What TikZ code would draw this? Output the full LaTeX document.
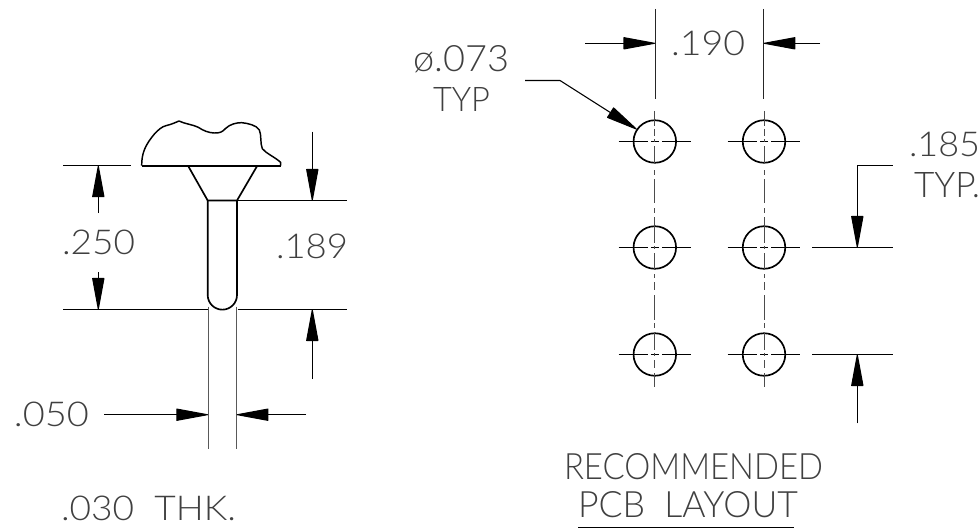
\documentclass[tikz,border=0pt]{standalone}
\usepackage{fontspec}
\setmainfont{Lato}[UprightFont=* Light]
\usetikzlibrary{arrows.meta}
\newcommand{\fittext}[6]{% name, left, baseline, width, height, text
  \node[lbl] (#1) at (#2,#3) {\resizebox{\dimexpr#4pt*3/4\relax}{\dimexpr#5pt*3/4\relax}{#6}};}
\tikzset{
  lbl/.style={anchor=south west,inner sep=0pt,outer sep=0pt,text=black!75},
  bold/.style={line width=1.25pt,draw=black,line join=round},
  dimline/.style={line width=.8pt,draw=black},
  thin line/.style={line width=.75pt,draw=black!65},
  tip/.style={-{Triangle[length=#1,width=9.2pt,round=false]}},
  tip/.default=25.8pt,
  centerln/.style={line width=.75pt,draw=black!70},
}
\begin{document}
\begin{tikzpicture}[x=.75pt,y=-.75pt]
\useasboundingbox (0,0) rectangle (980,531);
% --- pin -----
\coordinate (hl) at (141.7,165.7); \coordinate (hr) at (280.7,165.7);
\coordinate (cl) at (188,165.7);   \coordinate (cr) at (257.3,165.7);
\coordinate (pl) at (207.7,200.5);   \coordinate (pr) at (237,200.5);
\begin{scope}[shift={(40,100)},x=.25pt,y=-.25pt]
\draw[bold,line width=1.1pt] (305,197) .. controls (305,160) and (315,135) .. (345,100)
 .. controls (355,90) and (365,80) .. (378,77) .. controls (395,73) and (405,68) .. (417,63)
 .. controls (435,72) and (460,74) .. (475,82) .. controls (490,92) and (505,98) .. (522,99)
 .. controls (540,100) and (548,95) .. (556,86) .. controls (570,72) and (590,68) .. (605,68)
 .. controls (625,70) and (650,76) .. (658,90) .. controls (665,105) and (660,130) .. (667,146)
 .. controls (680,162) and (700,168) .. (722,187) -- (722,197);
\end{scope}
\draw[bold] (hl) -- (hr);
\draw[bold] (cl) -- (pl) -- (pr) -- (cr);
\draw[bold] (pl) -- (207.7,295) arc[start angle=180,end angle=0,radius=14.65] -- (pr);
% extension lines left
\draw[dimline] (63,165.7) -- (130.7,165.7);
\draw[dimline] (63,309.5) -- (208,309.5);
\draw[dimline] (237.5,309.5) -- (347,309.5);
\draw[dimline] (pr) -- (347,200.5);
\draw[thin line] (208,306.5) -- (208,449.3);
\draw[thin line] (236.7,306.5) -- (236.7,449.3);
% .250
\draw[dimline,tip=25.5pt] (98.3,213) -- (98.3,165.7);
\draw[dimline,tip=25.5pt] (98.3,272) -- (98.3,309.5);
% .189
\draw[dimline,tip=25.5pt] (312.3,131.7) -- (312.3,200.5);
\draw[dimline,tip=25.5pt] (312.3,379) -- (312.3,309.5);
% .050
\draw[thin line,tip=25.5pt,color=black] (104,414.7) -- (208,414.7);
\draw[thin line,tip=25.5pt,color=black] (306,414.7) -- (236.7,414.7);
% --- PCB -----
\draw[thin line,color=black!85] (655,9) -- (655,99);
\draw[thin line,color=black!85] (763.8,9) -- (763.8,99);
\draw[dimline,tip=25.5pt] (585,43.3) -- (655,43.3);
\draw[dimline,tip=25.5pt] (820,43.3) -- (763.8,43.3);
\foreach \cx/\col in {654.8/a,764/b}{
  \foreach \cy/\row in {141.5/1,247.5/2,354.5/3}{
    \node[circle,draw,line width=1.25pt,minimum size=31.9pt,inner sep=0pt] (pad\col\row) at (\cx,\cy) {};
    \draw[line width=.8pt] (\cx-36.3,\cy) -- (\cx-7,\cy) (\cx-4,\cy) -- (\cx+4,\cy) (\cx+7,\cy) -- (\cx+36.3,\cy);
  }
  \foreach \ya/\yb in {111/126,129/136,139.5/142.5,146/163,170/175,179/203,208/213,217/243,245.9/248.9,253/270,274/278,282/290,295/320,323/328,333/350,352.8/355.8,360/368,373/387}{
    \draw[centerln] (\cx,\ya) -- (\cx,\yb);
  }
}
% leader phi .073
\coordinate (ld1) at (525,80.5); \coordinate (ld2) at (560,80.5);
\draw[dimline,tip=25.5pt] (ld1) -- (ld2) -- (636.7,129.3);
% .185
\draw[dimline] (812.3,247.5) -- (892.7,247.5);
\draw[dimline] (812.3,354.5) -- (892.7,354.5);
\draw[dimline,tip=25.5pt] (892.7,165.5) -- (857.3,165.5) -- (857.3,247.5);
\draw[dimline,tip=25.5pt] (857.3,423.3) -- (857.3,354.5);
% underline
\draw[dimline] (578,527.5) -- (794,527.5);
% --- text -----
\fittext{t250}{62}{255}{73}{24.5}{.250}
\fittext{t189}{276}{259}{72}{24.5}{.189}
\fittext{t050}{14}{427}{75}{24.5}{.050}
\fittext{t030}{61}{520.7}{175}{24.5}{.030\ \ THK.}
\fittext{t190}{671}{55.7}{74}{24.5}{.190}
\fittext{t073}{413}{73}{96}{26}{ø.073}
\fittext{ttyp}{433}{112}{57}{24}{TYP}
\fittext{t185}{909}{157}{71}{24.5}{.185}
\fittext{ttyq}{914}{198}{66}{25}{TYP.}
\fittext{trec}{564}{480}{259}{26}{RECOMMENDED}
\fittext{tpcb}{578}{518}{220}{26}{PCB\ \ LAYOUT}
\end{tikzpicture}
\end{document}
